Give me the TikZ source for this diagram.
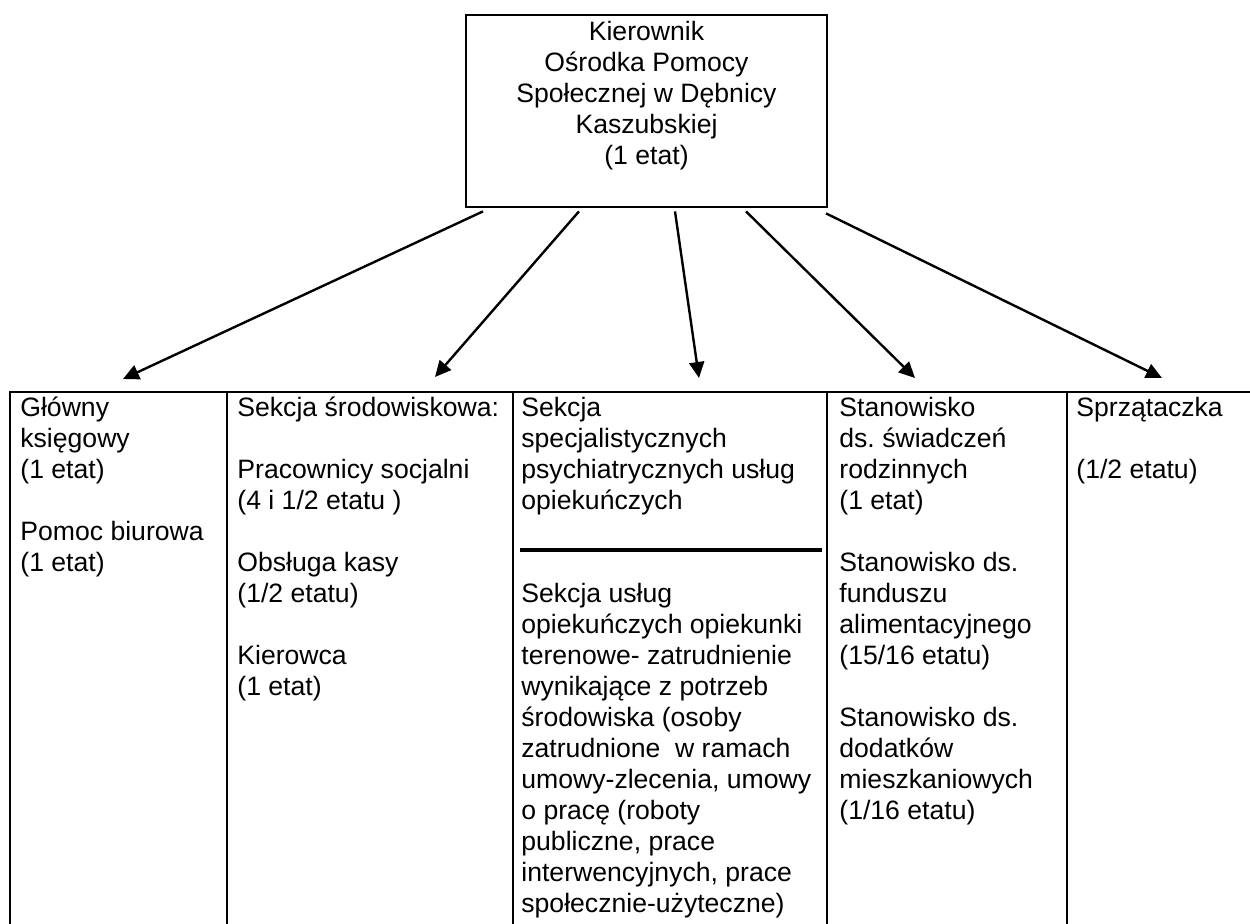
\documentclass[tikz,border=0pt]{standalone}
\usepackage{fontspec}
\setmainfont{Liberation Sans}
\usetikzlibrary{arrows.meta}
\frenchspacing

\begin{document}
\begin{tikzpicture}[x=0.5pt, y=-0.5pt,
  every node/.style={font=\fontsize{13.3pt}{15.5pt}\selectfont, inner sep=0pt},
  cell/.style={anchor=north west, align=left},
  kratka/.style={line width=1.4pt},
  strz/.style={-{Triangle[length=8pt,width=7.5pt]}, line width=1.2pt}]
\useasboundingbox (0,0) rectangle (1250,924);
\node[draw, kratka, minimum width=180.5pt, minimum height=96pt] (kier) at (646.5,111) {};
\node[anchor=north, align=center] (kiertxt) at (646.5,18.3) {\strut Kierownik\\Ośrodka Pomocy\\Społecznej w Dębnicy\\Kaszubskiej\\(1 etat)};
\coordinate (k1) at (123,379);
\coordinate (k2) at (435,377);
\coordinate (k3) at (699,378);
\coordinate (k4) at (915,378);
\coordinate (k5) at (1162,378);
\draw[strz] ([xshift=-81.75pt, yshift=-1.5pt]kier.south) -- (k1);
\draw[strz] ([xshift=-33.75pt, yshift=-1.5pt]kier.south) -- (k2);
\draw[strz] ([xshift=14.25pt, yshift=-1.5pt]kier.south) -- (k3);
\draw[strz] ([xshift=49.75pt, yshift=-1.5pt]kier.south) -- (k4);
\draw[strz] ([xshift=89.75pt, yshift=-2.5pt]kier.south) -- (k5);
\draw[kratka] (10,924) -- (10,392) -- (1250,392);
\draw[kratka] (227,392) -- (227,924);
\draw[kratka] (513,392) -- (513,924);
\draw[kratka] (827,392) -- (827,924);
\draw[kratka] (1067,392) -- (1067,924);
\draw[line width=2pt] (520,550) -- (822,550);
\node[cell] (c1) at (20,394.3) {\strut Główny\\księgowy\\(1 etat)\\[15.5pt]Pomoc biurowa\\(1 etat)};
\node[cell] (c2) at (237,394.3) {\strut Sekcja środowiskowa:\\[15.5pt]Pracownicy socjalni\\(4 i 1/2 etatu )\\[15.5pt]Obsługa kasy\\(1/2 etatu)\\[15.5pt]Kierowca\\(1 etat)};
\node[cell] (c3a) at (521,394.3) {\strut Sekcja\\specjalistycznych\\psychiatrycznych usług\\opiekuńczych};
\node[cell] (c3b) at (521,580.3) {\strut Sekcja usług\\opiekuńczych opiekunki\\terenowe- zatrudnienie\\wynikające z potrzeb\\środowiska (osoby\\zatrudnione~ w ramach\\umowy-zlecenia, umowy\\o pracę (roboty\\publiczne, prace\\interwencyjnych, prace\\społecznie-użyteczne)};
\node[cell] (c4) at (839,394.3) {\strut Stanowisko\\ds. świadczeń\\rodzinnych\\(1 etat)\\[15.5pt]Stanowisko ds.\\funduszu\\alimentacyjnego\\(15/16 etatu)\\[15.5pt]Stanowisko ds.\\dodatków\\mieszkaniowych\\(1/16 etatu)};
\node[cell] (c5) at (1076,394.3) {\strut Sprzątaczka\\[15.5pt](1/2 etatu)};
\end{tikzpicture}
\end{document}
